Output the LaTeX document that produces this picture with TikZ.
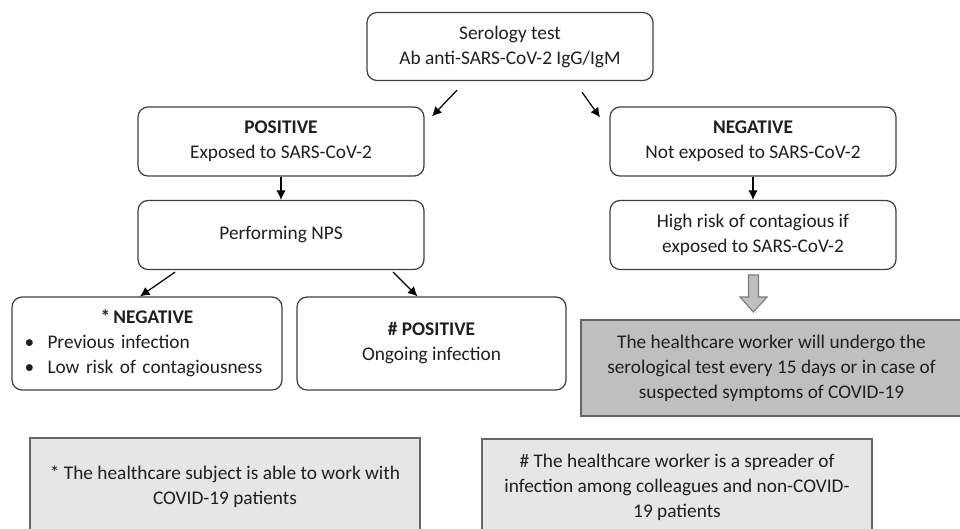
\documentclass[tikz,border=0pt]{standalone}
\usepackage{fontspec}
\setmainfont{Carlito}
\usetikzlibrary{arrows.meta}

\definecolor{boxline}{HTML}{404040}
\definecolor{darkfill}{HTML}{BFBFBF}
\definecolor{lightfill}{HTML}{E6E6E6}

\begin{document}
\begin{tikzpicture}[x=0.02cm, y=-0.02cm,
  every node/.style={font=\fontsize{11}{14.2}\selectfont, text=black!88},
  rbox/.style={draw=boxline, line width=0.7pt, rounded corners=0.2cm, align=center, inner sep=0pt},
  sbox/.style={draw=boxline!80, line width=0.7pt, align=center, inner sep=0pt},
  arr/.style={-{Latex[length=1.9mm,width=1.9mm]}, line width=0.7pt}]
\useasboundingbox (0,0) rectangle (960,528);

% Top of the chart
\node[rbox, minimum width=5.72cm, minimum height=1.36cm] (sero) at (510,46.5)
  {Serology test\\Ab anti-SARS-CoV-2 IgG/IgM};

% Positive branch
\node[rbox, minimum width=5.72cm, minimum height=1.38cm] (pos) at (281,141.5)
  {\textbf{POSITIVE}\\Exposed to SARS-CoV-2};
\node[rbox, minimum width=5.72cm, minimum height=1.38cm] (nps) at (281,235)
  {Performing NPS};
\node[rbox, minimum width=5.4cm, minimum height=1.86cm, align=left, text width=4.9cm] (npsneg) at (147,343.5)
  {\makebox[\linewidth]{\textbf{*\,NEGATIVE}}\\
   \makebox[0.46cm][l]{\textbullet}Previous infection\\
   \makebox[0.46cm][l]{\textbullet}Low risk of contagiousness};
\node[rbox, minimum width=5.38cm, minimum height=1.86cm] (npspos) at (431.5,343.5)
  {\textbf{\# POSITIVE}\\Ongoing infection};

% Negative branch
\node[rbox, minimum width=5.72cm, minimum height=1.38cm] (neg) at (753,141.5)
  {\textbf{NEGATIVE}\\Not exposed to SARS-CoV-2};
\node[rbox, minimum width=5.72cm, minimum height=1.38cm] (risk) at (753,235)
  {High risk of contagious if\\exposed to SARS-CoV-2};
\node[sbox, fill=darkfill, minimum width=7.62cm, minimum height=1.92cm] (retest) at (771.5,368)
  {The healthcare worker will undergo the\\serological test every 15 days or in case of\\suspected symptoms of COVID-19};

% Notes at the bottom
\node[sbox, fill=lightfill, minimum width=7.8cm, minimum height=1.94cm] (note1) at (225,486.5)
  {* The healthcare subject is able to work with\\COVID-19 patients};
\node[sbox, fill=lightfill, minimum width=7.8cm, minimum height=1.94cm] (note2) at (677,487.5)
  {\# The healthcare worker is a spreader of\\infection among colleagues and non-COVID-\\19 patients};

% Arrows
\draw[arr] ([shift={(-53,9)}]sero.south) -- ([shift={(151,10)}]pos.north);
\draw[arr] ([shift={(72,11)}]sero.south) -- ([shift={(-153,11)}]neg.north);
\draw[arr] (pos) -- (nps);
\draw[arr] (neg) -- (risk);
\draw[arr] ([shift={(-106,2)}]nps.south) -- ([shift={(-7,0)}]npsneg.north);
\draw[arr] ([shift={(112,2)}]nps.south) -- ([shift={(-14,0)}]npspos.north);

% Block arrow down to the grey box
\draw[fill=darkfill, draw=boxline!70, line width=0.6pt]
  (748.5,275) -- (758.5,275) -- (758.5,297) -- (767,297) -- (753.5,312)
  -- (740,297) -- (748.5,297) -- cycle;
\end{tikzpicture}
\end{document}
